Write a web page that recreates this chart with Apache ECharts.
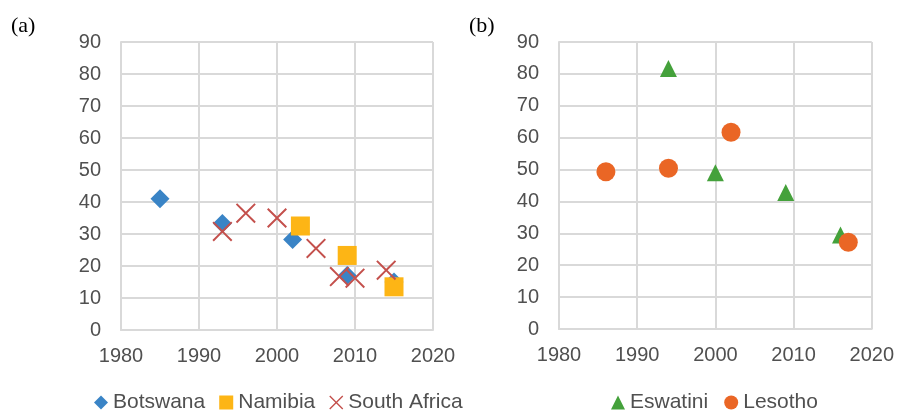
<!DOCTYPE html>
<html>
<head>
<meta charset="utf-8">
<script src="https://cdn.jsdelivr.net/npm/echarts@6/dist/echarts.min.js"></script>
<style>html,body{margin:0;padding:0;background:#fff}#c{width:897px;height:411px}</style>
</head>
<body>
<div id="c"></div>
<script>
// ---- data ----
const xTicks = [1980, 1990, 2000, 2010, 2020];
const yTicks = [0, 10, 20, 30, 40, 50, 60, 70, 80, 90];

const botswanaYears = [1985, 1993, 2002, 2009, 2015];
const botswanaValues = [41, 33.3, 28.3, 17, 15];

const namibiaYears = [2003, 2009, 2015];
const namibiaValues = [32.5, 23.3, 13.5];

const southAfricaYears = [1993, 1996, 2000, 2005, 2008, 2010, 2014];
const southAfricaValues = [30.8, 36.5, 35, 25.5, 16.7, 16.2, 18.7];

const eswatiniYears = [1994, 2000, 2009, 2016];
const eswatiniValues = [81.7, 49, 42.8, 29.5];

const lesothoYears = [1986, 1994, 2002, 2017];
const lesothoValues = [49.3, 50.4, 61.7, 27.2];

// ---- helpers ----
const pairs = (xs, ys) => xs.map((x, i) => [x, ys[i]]);
const X_PATH = 'path://M0,7L7,0L50,43L93,0L100,7L57,50L100,93L93,100L50,57L7,100L0,93L43,50Z';
const FONT = '"Liberation Sans", Arial, sans-serif';
const GRID_COLOR = '#d9d9d9';
const LABEL_COLOR = '#505050';

function xAxis(gi) {
  return {
    type: 'value', gridIndex: gi, min: xTicks[0], max: xTicks[xTicks.length - 1], interval: 10,
    axisLine: { show: true, lineStyle: { color: GRID_COLOR, width: 2 } },
    axisTick: { show: false },
    splitLine: { show: true, lineStyle: { color: GRID_COLOR, width: 2 } },
    axisLabel: { color: LABEL_COLOR, fontFamily: FONT, fontSize: 20, margin: 16, formatter: v => String(v) }
  };
}
function yAxis(gi) {
  return {
    type: 'value', gridIndex: gi, min: yTicks[0], max: yTicks[yTicks.length - 1], interval: 10,
    axisLine: { show: true, lineStyle: { color: GRID_COLOR, width: 2 } },
    axisTick: { show: false },
    splitLine: { show: true, lineStyle: { color: GRID_COLOR, width: 2 } },
    axisLabel: { color: LABEL_COLOR, fontFamily: FONT, fontSize: 20, margin: 20, formatter: v => String(v) }
  };
}

const chart = echarts.init(document.getElementById('c'), null, { renderer: 'canvas' });
chart.setOption({
  animation: false,
  backgroundColor: '#fff',
  title: [
    { text: '(a)', left: 6, top: 10, textStyle: { fontFamily: '"Liberation Serif", "Times New Roman", serif', fontSize: 22, fontWeight: 'normal', color: '#000' } },
    { text: '(b)', left: 464, top: 10, textStyle: { fontFamily: '"Liberation Serif", "Times New Roman", serif', fontSize: 22, fontWeight: 'normal', color: '#000' } }
  ],
  grid: [
    { left: 121, right: 464, top: 42, bottom: 81 },
    { left: 559, right: 23, top: 42, bottom: 82 }
  ],
  xAxis: [xAxis(0), xAxis(1)],
  yAxis: [yAxis(0), yAxis(1)],
  legend: [
    { left: 89, top: 387, itemWidth: 14, itemHeight: 14, itemGap: 14,
      textStyle: { fontFamily: FONT, fontSize: 21, color: LABEL_COLOR },
      data: ['Botswana', 'Namibia', 'South Africa'] },
    { left: 606, top: 387, itemWidth: 14, itemHeight: 14, itemGap: 16,
      textStyle: { fontFamily: FONT, fontSize: 21, color: LABEL_COLOR },
      data: ['Eswatini', 'Lesotho'] }
  ],
  series: [
    { name: 'Botswana', type: 'scatter', xAxisIndex: 0, yAxisIndex: 0, symbol: 'diamond', symbolSize: 19,
      itemStyle: { color: '#3a84c6', opacity: 1 }, data: pairs(botswanaYears, botswanaValues) },
    { name: 'Namibia', type: 'scatter', xAxisIndex: 0, yAxisIndex: 0, symbol: 'rect', symbolSize: 19,
      itemStyle: { color: '#fdb515', opacity: 1 }, data: pairs(namibiaYears, namibiaValues) },
    { name: 'South Africa', type: 'scatter', xAxisIndex: 0, yAxisIndex: 0, symbol: X_PATH, symbolSize: 20,
      itemStyle: { color: '#c4504c', opacity: 1 }, data: pairs(southAfricaYears, southAfricaValues) },
    { name: 'Eswatini', type: 'scatter', xAxisIndex: 1, yAxisIndex: 1, symbol: 'triangle', symbolSize: [17, 17],
      itemStyle: { color: '#44a13b', opacity: 1 }, data: pairs(eswatiniYears, eswatiniValues) },
    { name: 'Lesotho', type: 'scatter', xAxisIndex: 1, yAxisIndex: 1, symbol: 'circle', symbolSize: 19,
      itemStyle: { color: '#ea6625', opacity: 1 }, data: pairs(lesothoYears, lesothoValues) }
  ]
});
</script>
</body>
</html>
